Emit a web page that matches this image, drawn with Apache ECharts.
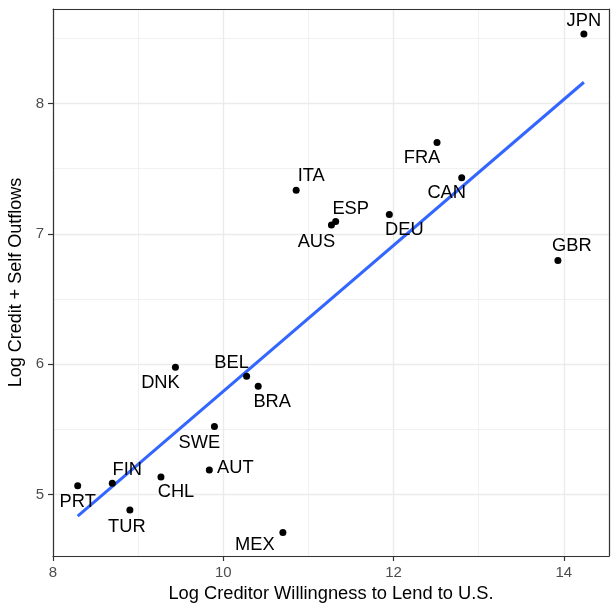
<!DOCTYPE html>
<html>
<head>
<meta charset="utf-8">
<script src="https://cdn.jsdelivr.net/npm/echarts@6/dist/echarts.min.js"></script>
<style>
html,body{margin:0;padding:0;background:#fff;}
#chart{width:613px;height:603px;}
</style>
</head>
<body>
<div id="chart"></div>
<script>
// ---- data ----
const countries = ["JPN","FRA","CAN","ITA","ESP","AUS","DEU","GBR","DNK","BEL","BRA","SWE","AUT","FIN","PRT","CHL","TUR","MEX"];
const creditorWillingness = [14.235,12.51,12.80,10.856,11.32,11.27,11.95,13.93,9.438,10.274,10.41,9.896,9.836,8.696,8.29,9.268,8.903,10.70];
const creditSelfOutflows = [8.533,7.70,7.43,7.335,7.095,7.067,7.149,6.796,5.977,5.908,5.831,5.522,5.19,5.087,5.069,5.136,4.882,4.711];
const xTitle = "Log Creditor Willingness to Lend to U.S.";
const yTitle = "Log Credit + Self Outflows";

// ---- label placement (style only) ----
const labelOffsets = {
  JPN:[0,-13], FRA:[-15,15], CAN:[-15,15], ITA:[15,-14], ESP:[15,-13], AUS:[-15,17],
  DEU:[15,16], GBR:[14,-14], DNK:[-15,16], BEL:[-15,-13], BRA:[14,16], SWE:[-15,16],
  AUT:[26,-2], FIN:[15,-13], PRT:[0,16], CHL:[15,15], TUR:[-3,17], MEX:[-28,13]
};

// ---- linear fit (lm) from the data ----
const n = countries.length;
const mx = creditorWillingness.reduce((a,b)=>a+b,0)/n;
const my = creditSelfOutflows.reduce((a,b)=>a+b,0)/n;
let sxy=0, sxx=0;
for(let i=0;i<n;i++){ sxy+=(creditorWillingness[i]-mx)*(creditSelfOutflows[i]-my); sxx+=(creditorWillingness[i]-mx)**2; }
const slope = sxy/sxx, intercept = my - slope*mx;
const xLo = Math.min(...creditorWillingness), xHi = Math.max(...creditorWillingness);
const fitLine = [[xLo, intercept+slope*xLo],[xHi, intercept+slope*xHi]];

const FONT = "Liberation Sans, Arial, Helvetica, sans-serif";
const XMIN=8, XMAX=14.53, YMIN=4.53, YMAX=8.724;
const FRAME = {show:true, onZero:false, lineStyle:{color:'#333333', width:1.2}};

const chart = echarts.init(document.getElementById('chart'), null, {renderer:'canvas'});
chart.setOption({
  animation:false,
  backgroundColor:'#ffffff',
  textStyle:{fontFamily:FONT},
  grid:{left:53, right:4, top:9, bottom:47, show:false, containLabel:false, outerBoundsMode:'none'},
  xAxis:[{
    type:'value', min:XMIN, max:XMAX, minInterval:2, maxInterval:2, position:'bottom',
    name:xTitle, nameLocation:'middle', nameGap:25,
    nameTextStyle:{color:'#000', fontSize:18.3, fontFamily:FONT},
    axisLine:FRAME,
    axisTick:{show:true, length:5, lineStyle:{color:'#333333', width:1.2}},
    axisLabel:{color:'#4d4d4d', fontSize:15, margin:9, showMaxLabel:false, fontFamily:FONT},
    splitLine:{show:true, lineStyle:{color:'#ebebeb', width:1.4}}
  },{
    type:'value', min:XMIN, max:XMAX, minInterval:1, maxInterval:1, position:'top',
    axisLine:FRAME, axisTick:{show:false}, axisLabel:{show:false},
    splitLine:{show:true, lineStyle:{color:'#ebebeb', width:0.7}}
  }],
  yAxis:[{
    type:'value', min:YMIN, max:YMAX, minInterval:1, maxInterval:1, position:'left',
    name:yTitle, nameLocation:'middle', nameGap:19, nameRotate:90,
    nameTextStyle:{color:'#000', fontSize:18, fontFamily:FONT},
    axisLine:FRAME,
    axisTick:{show:true, length:5, lineStyle:{color:'#333333', width:1.2}},
    axisLabel:{color:'#4d4d4d', fontSize:15, margin:9, showMinLabel:false, showMaxLabel:false, fontFamily:FONT},
    splitLine:{show:true, lineStyle:{color:'#ebebeb', width:1.4}}
  },{
    type:'value', min:YMIN, max:YMAX, minInterval:0.5, maxInterval:0.5, position:'right',
    axisLine:FRAME, axisTick:{show:false}, axisLabel:{show:false},
    splitLine:{show:true, lineStyle:{color:'#ebebeb', width:0.7}}
  }],
  series:[{
    type:'line', data:fitLine, showSymbol:false, symbol:'none', z:3,
    lineStyle:{color:'#3366FF', width:3}, silent:true
  },{
    type:'scatter', z:4, symbolSize:7, itemStyle:{color:'#000000', opacity:1},
    data: countries.map((c,i)=>({
      value:[creditorWillingness[i], creditSelfOutflows[i], c],
      label:{show:true, position:'inside', offset:labelOffsets[c], formatter:c,
        color:'#000000', fontSize:18.3, fontFamily:FONT, align:'center', verticalAlign:'middle'}
    }))
  }]
});
</script>
</body>
</html>
